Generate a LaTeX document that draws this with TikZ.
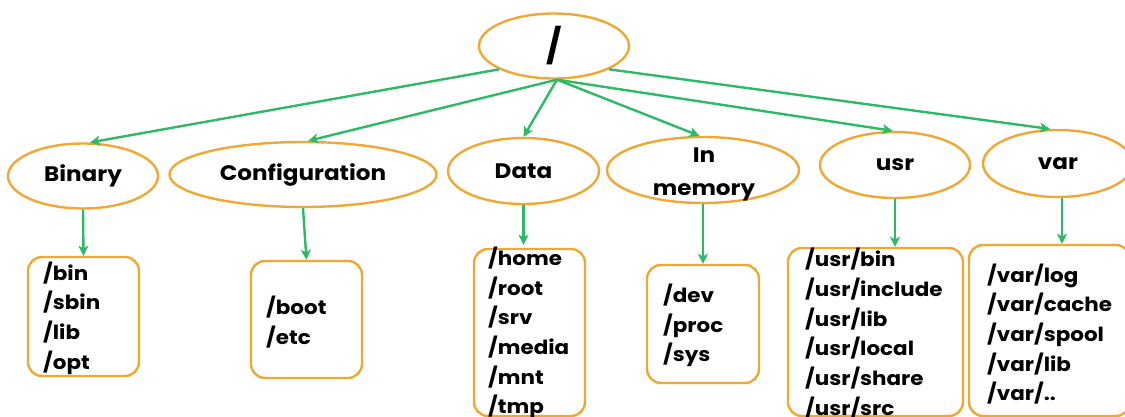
\documentclass[tikz,border=0pt]{standalone}
\usepackage{fontspec}
\setmainfont{Poppins}
\newfontfamily\widefont{Poppins}[FakeStretch=1.1]
\usetikzlibrary{shapes.geometric,arrows.meta}
\definecolor{borange}{RGB}{240,168,52}
\definecolor{agreen}{RGB}{44,186,102}
\begin{document}
\begin{tikzpicture}[x=1pt,y=-1pt,
  ell/.style={ellipse,draw=borange,line width=2.4pt,inner sep=0pt,font=\widefont\fontsize{21}{24}\selectfont\bfseries},
  dirbox/.style={draw=borange,line width=2.4pt,rounded corners=14pt,inner sep=0pt},
  dirtext/.style={inner sep=0pt,align=left,anchor=west,font=\widefont\fontsize{19.5}{29.7}\selectfont\bfseries},
  arr/.style={draw=agreen,line width=2.4pt,-{Stealth[length=10pt,width=10pt,inset=2.5pt]}}]
\useasboundingbox (0,0) rectangle (1125,417);
\clip (0,0) rectangle (1125,417);

% top-level
\node[ell,minimum width=150pt,minimum height=65pt,font=\fontsize{34}{34}\selectfont\bfseries] (root) at (554,46) {/};

% categories
\node[ell,minimum width=150pt,minimum height=65pt] (binary) at (83,176) {Binary};
\node[ell,minimum width=267pt,minimum height=65pt] (config) at (303,174.5) {Configuration};
\node[ell,minimum width=151pt,minimum height=66pt] (data) at (523.5,171) {Data};
\node[ell,minimum width=192pt,minimum height=66pt] (mem) at (703,170) {};
\node[inner sep=0pt,align=center,font=\widefont\fontsize{21}{33}\selectfont\bfseries] (memtxt) at (704,174) {In\\memory};
\node[ell,minimum width=150pt,minimum height=66pt] (usr) at (895,165) {usr};
\node[ell,minimum width=150pt,minimum height=67pt] (var) at (1058,163.5) {var};

% directory boxes
\node[dirbox,minimum width=111pt,minimum height=119pt] (binbox) at (83.5,316.5) {};
\node[dirbox,minimum width=111pt,minimum height=117pt] (cfgbox) at (306.5,319.5) {};
\node[dirbox,minimum width=111pt,minimum height=167pt] (databox) at (529.5,332.5) {};
\node[dirbox,minimum width=112pt,minimum height=118pt] (membox) at (703,324) {};
\node[dirbox,minimum width=175pt,minimum height=168pt] (usrbox) at (875.5,332) {};
\node[dirbox,minimum width=161pt,minimum height=171pt] (varbox) at (1049.5,330.5) {};

\node[dirtext] (bintxt) at (43,318) {/bin\\/sbin\\/lib\\/opt};
\node[dirtext] (cfgtxt) at (266,322) {/boot\\/etc};
\node[dirtext] (datatxt) at (488,333) {/home\\/root\\/srv\\/media\\/mnt\\/tmp};
\node[dirtext] (memdirs) at (663,325.5) {/dev\\/proc\\/sys};
\node[dirtext] (usrtxt) at (805,333.5) {/usr/bin\\/usr/include\\/usr/lib\\/usr/local\\/usr/share\\/usr/src};
\node[dirtext] (vartxt) at (987,334) {/var/log\\/var/cache\\/var/spool\\/var/lib\\/var/..};

% arrows from root
\draw[arr] (root.203) -- (binary.78);
\draw[arr] (root.275) -- (config.81);
\draw[arr] (root.275) -- (data.north);
\draw[arr] (root.275) -- (mem.96);
\draw[arr] (root.275) -- (usr.94);
\draw[arr] (root.337) -- (var.103);

% arrows to boxes
\draw[arr] (binary.south) -- (binbox.north);
\draw[arr] (config.south) -- (cfgbox.north);
\draw[arr,shorten >=3pt] (data.south) -- (data.south |- databox.north);
\draw[arr] (mem.south) -- (membox.north);
\draw[arr] (usr.south) -- (usr.south |- usrbox.north);
\draw[arr] ([xshift=4pt]var.south) -- ([xshift=4pt]var.south |- varbox.north);
\end{tikzpicture}
\end{document}
